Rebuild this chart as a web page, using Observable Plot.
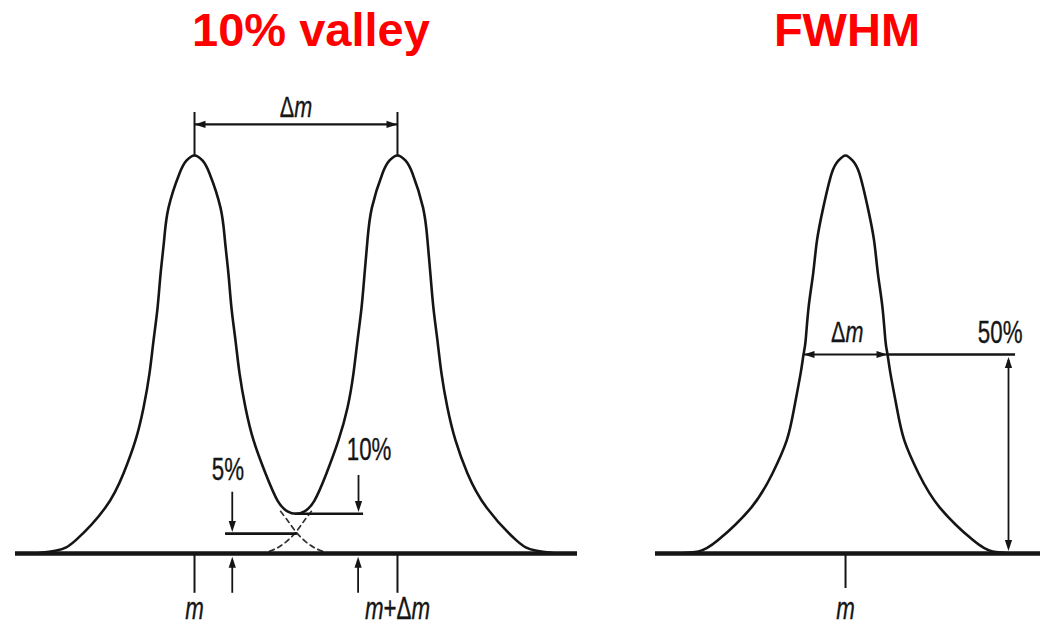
<!DOCTYPE html>
<html>
<head>
<meta charset="utf-8">
<script src="https://cdn.jsdelivr.net/npm/d3@7"></script>
<script src="https://cdn.jsdelivr.net/npm/@observablehq/plot@0.6"></script>
<style>
  html, body { margin: 0; padding: 0; background: #fff; }
  #wrap { position: relative; width: 1048px; height: 627px; background: #fff; overflow: hidden; }
  .panel { position: absolute; top: 0; }
  .title { position: absolute; top: 7px; text-align: center; font: bold 47px "Liberation Sans", Arial, sans-serif; line-height: 46px; color: #ff0000; z-index: 2; }
</style>
</head>
<body>
<div id="wrap">
  <div class="title" style="left:0;width:622px">10% valley</div>
  <div class="title" style="left:647px;width:400px">FWHM</div>
  <div id="left" class="panel" style="left:0"></div>
  <div id="right" class="panel" style="left:600px"></div>
</div>
<script>
// ---------- Left panel: "10% valley" (x in Δm units from m, y in % of peak height) ----------
const valleyX = [-0.783,-0.675,-0.586,-0.438,-0.350,-0.291,-0.251,-0.222,-0.202,-0.182,-0.167,-0.150,-0.128,-0.074,-0.040,0,
  0.040,0.074,0.128,0.150,0.167,0.182,0.202,0.222,0.251,0.291,0.350,0.409,0.458,0.5,0.542,0.591,0.650,0.709,0.754,0.783,
  0.803,0.823,0.838,0.852,0.874,0.926,0.960,1,1.040,1.074,1.126,1.148,1.162,1.177,1.197,1.217,1.246,1.286,1.345,1.438,1.586,1.675,1.783];
const valleyY = [0,0.8,3.3,11.6,20.1,28.4,36.7,45.2,53.5,61.8,70.4,78.6,86.9,95.5,98.7,100,
  98.7,95.5,86.9,78.6,70.4,61.8,53.5,45.2,36.7,28.4,20.1,13.3,10.6,10,10.6,13.3,20.1,28.4,36.7,45.2,
  53.5,61.8,70.4,78.6,86.9,95.5,98.7,100,98.7,95.5,86.9,78.6,70.4,61.8,53.5,45.2,36.7,28.4,20.1,11.6,3.3,0.8,0];
// individual peak tails (dashed) under the valley
const tailLeftX = [0.424,0.463,0.502,0.547,0.596,0.645];
const tailRightX = [0.576,0.537,0.498,0.453,0.404,0.355];
const tailY = [10.6,8.0,5.3,3.0,1.3,0.3];
const valleyAxis = [-0.882, 1.887];
const valleyPeaks = [0, 1];
const valleyPeakLabels = ["m", "m+Δm"];
const valleyLevels = [5, 10];
const valleyLevelFrom = [0.153, 0.498];
const valleyLevelTo = [0.507, 0.833];
const valleyLevelLabels = ["5%", "10%"];
const valleyLevelLabelX = [0.165, 0.860];
const valleyLevelLabelY = [20.9, 26.1];
const valleyArrowX = [0.186, 0.808];
const valleyArrowTop = [15.4, 19.6];
const valleyArrowTip = [5.4, 10.4];
const valleyUpArrowX = [0.186, 0.806];
const deltaLevel = 107.8;
const deltaTickTop = 110.8;
const deltaLabel = "Δm";
const deltaLabelY = 112.2;
const belowTick = -10;
const belowLabelY = -13.9;

// ---------- Right panel: "FWHM" (x in Δm = FWHM units from m, y in % of peak height) ----------
const fwhmX = [-2.0,-1.75,-1.52,-1.12,-0.87,-0.70,-0.61,-0.535,-0.5,-0.475,-0.44,-0.385,-0.34,-0.265,-0.165,-0.085,0,
  0.085,0.165,0.265,0.34,0.385,0.44,0.475,0.5,0.535,0.61,0.70,0.87,1.12,1.52,1.75,2.0];
const fwhmY = [0,0.5,3.3,11.6,20.1,28.4,36.7,45.2,50,53.5,61.8,70.4,78.6,86.9,95.5,98.7,100,
  98.7,95.5,86.9,78.6,70.4,61.8,53.5,50,45.2,36.7,28.4,20.1,11.6,3.3,0.5,0];
const fwhmAxis = [-2.262, 2.321];
const halfLevel = 50;
const halfWidth = [-0.5, 0.5];
const halfLineEnd = 2.024;
const heightArrowX = 1.94;
const fwhmLabels = ["Δm", "50%"];
const fwhmLabelX = [0.02, 2.107];
const fwhmLabelY = [55.6, 55.5];

// ---------- helpers ----------
const INK = "#151515";
const FONT = "Liberation Sans, Arial, sans-serif";
function head(dx, dy) { // filled arrowhead, tip at the point, pointing (dx,dy)
  return {draw(ctx) {
    const L = 11, W = 3.6, px = -dy, py = dx;
    ctx.moveTo(0, 0);
    ctx.lineTo(-dx * L + px * W, -dy * L + py * W);
    ctx.lineTo(-dx * L - px * W, -dy * L - py * W);
    ctx.closePath();
  }};
}
const HEAD = {up: head(0, -1), down: head(0, 1), left: head(-1, 0), right: head(1, 0)};
const heads = (pts, dir) => Plot.dot(pts, {x: "x", y: "y", symbol: HEAD[dir], fill: INK, stroke: "none"});
const label = (rows, size, anchor = "middle") => Plot.text(rows, {x: "x", y: "y", text: "t", fontSize: size,
  fontFamily: FONT, fill: INK, textAnchor: anchor, lineAnchor: "middle", stroke: INK, strokeWidth: 0.35});

function finishText(svg) {
  const ns = "http://www.w3.org/2000/svg";
  svg.querySelectorAll('g[aria-label="text"] text').forEach(t => {
    const s = t.textContent;
    t.textContent = "";
    for (const part of s.split(/(m)/)) {
      if (!part) continue;
      const ts = document.createElementNS(ns, "tspan");
      ts.textContent = part;
      if (part === "m") ts.setAttribute("font-style", "italic");
      t.appendChild(ts);
    }
    const tr = t.getAttribute("transform") || "";
    const x = t.getAttribute("x");
    if (x != null && !isNaN(+x)) {
      t.removeAttribute("x");
      t.setAttribute("transform", `${tr} translate(${x},0) scale(0.72,1)`);
    } else {
      t.setAttribute("transform", `${tr} scale(0.72,1)`);
    }
  });
  return svg;
}

// ---------- left plot ----------
const valleyCurve = valleyX.map((x, i) => ({x, y: valleyY[i]}));
const valleyTails = [
  ...tailLeftX.map((x, i) => ({x, y: tailY[i], peak: "m"})),
  ...tailRightX.map((x, i) => ({x, y: tailY[i], peak: "m+Δm"}))
];
const leftPlot = Plot.plot({
  width: 600, height: 627,
  marginLeft: 15, marginRight: 23, marginTop: 155, marginBottom: 74,
  x: {domain: valleyAxis, axis: null},
  y: {domain: [0, 100], axis: null},
  style: {background: "transparent", overflow: "visible"},
  marks: [
    Plot.line(valleyTails, {x: "x", y: "y", z: "peak", curve: "catmull-rom", stroke: "#333", strokeWidth: 1.7, strokeDasharray: "5,4"}),
    Plot.line(valleyCurve, {x: "x", y: "y", curve: "natural", stroke: INK, strokeWidth: 2.6}),
    Plot.ruleY([0], {x1: valleyAxis[0], x2: valleyAxis[1], stroke: INK, strokeWidth: 4.5}),
    // 5% and 10% levels
    Plot.ruleY(valleyLevels, {y: d => d, x1: (d, i) => valleyLevelFrom[i], x2: (d, i) => valleyLevelTo[i], stroke: INK, strokeWidth: 2.6}),
    // ticks at m and m+Δm
    Plot.ruleX(valleyPeaks, {x: d => d, y1: 100, y2: deltaTickTop, stroke: INK, strokeWidth: 2}),
    Plot.ruleX(valleyPeaks, {x: d => d, y1: -0.5, y2: belowTick, stroke: INK, strokeWidth: 2}),
    // Δm dimension arrow
    Plot.ruleY([deltaLevel], {y: d => d, x1: valleyPeaks[0], x2: valleyPeaks[1], stroke: INK, strokeWidth: 2.2}),
    heads([{x: valleyPeaks[0], y: deltaLevel}], "left"),
    heads([{x: valleyPeaks[1], y: deltaLevel}], "right"),
    // down arrows to levels
    Plot.ruleX(valleyArrowX, {x: d => d, y1: (d, i) => valleyArrowTop[i], y2: (d, i) => valleyArrowTip[i] + 1, stroke: INK, strokeWidth: 1.8}),
    heads(valleyArrowX.map((x, i) => ({x, y: valleyArrowTip[i]})), "down"),
    // up arrows from below the baseline
    Plot.ruleX(valleyUpArrowX, {x: d => d, y1: belowTick, y2: -1.8, stroke: INK, strokeWidth: 1.8}),
    heads(valleyUpArrowX.map(x => ({x, y: -0.8})), "up"),
    // labels
    label([{x: 0.5, y: deltaLabelY, t: deltaLabel}], 30),
    label(valleyLevelLabels.map((t, i) => ({x: valleyLevelLabelX[i], y: valleyLevelLabelY[i], t})), 31),
    label(valleyPeakLabels.map((t, i) => ({x: valleyPeaks[i], y: belowLabelY, t})), 31)
  ]
});
document.getElementById("left").appendChild(finishText(leftPlot));

// ---------- right plot ----------
const fwhmCurve = fwhmX.map((x, i) => ({x, y: fwhmY[i]}));
const rightPlot = Plot.plot({
  width: 448, height: 627,
  marginLeft: 55, marginRight: 8, marginTop: 155, marginBottom: 74,
  x: {domain: fwhmAxis, axis: null},
  y: {domain: [0, 100], axis: null},
  style: {background: "transparent", overflow: "visible"},
  marks: [
    Plot.line(fwhmCurve, {x: "x", y: "y", curve: "natural", stroke: INK, strokeWidth: 2.6}),
    Plot.ruleY([0], {x1: fwhmAxis[0], x2: fwhmAxis[1], stroke: INK, strokeWidth: 4.5}),
    // Δm (FWHM) arrow and the 50% line
    Plot.ruleY([halfLevel], {y: d => d, x1: halfWidth[0], x2: halfWidth[1], stroke: INK, strokeWidth: 2.2}),
    heads([{x: halfWidth[0], y: halfLevel}], "left"),
    heads([{x: halfWidth[1], y: halfLevel}], "right"),
    Plot.ruleY([halfLevel], {y: d => d, x1: halfWidth[1], x2: halfLineEnd, stroke: INK, strokeWidth: 2.6}),
    // vertical 0–50% arrow
    Plot.ruleX([heightArrowX], {x: d => d, y1: 1.5, y2: halfLevel - 1.5, stroke: INK, strokeWidth: 1.8}),
    heads([{x: heightArrowX, y: halfLevel - 0.6}], "up"),
    heads([{x: heightArrowX, y: 0.6}], "down"),
    // tick at m
    Plot.ruleX([0], {x: d => d, y1: -0.5, y2: -8.8, stroke: INK, strokeWidth: 2}),
    label([{x: fwhmLabelX[0], y: fwhmLabelY[0], t: fwhmLabels[0]}], 30),
    label([{x: fwhmLabelX[1], y: fwhmLabelY[1], t: fwhmLabels[1]}], 31, "end"),
    label([{x: 0, y: belowLabelY, t: "m"}], 31)
  ]
});
document.getElementById("right").appendChild(finishText(rightPlot));
</script>
</body>
</html>
